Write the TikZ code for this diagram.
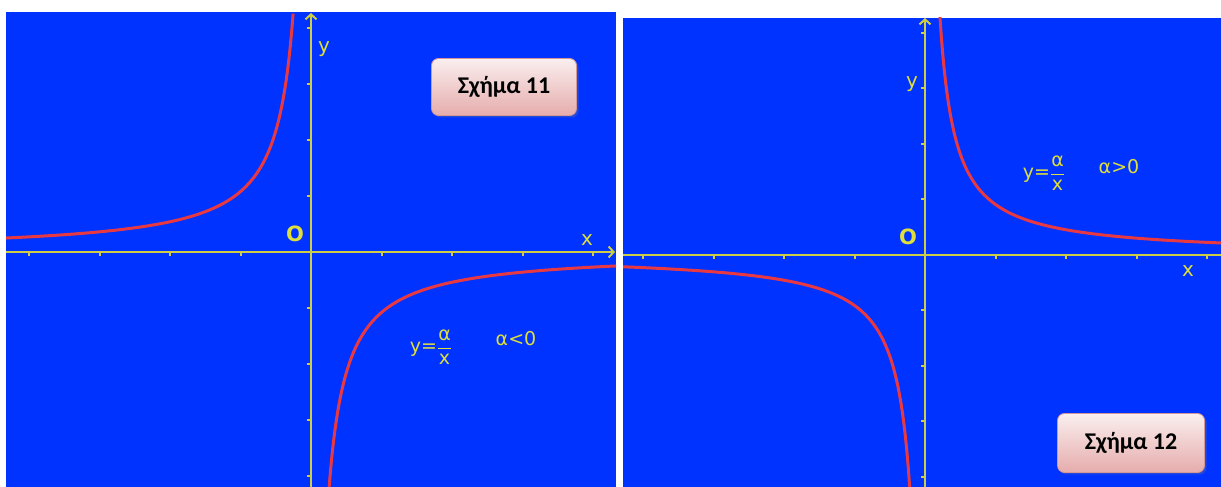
\documentclass[tikz,border=0pt]{standalone}
\usepackage{fontspec}
\setmainfont{DejaVu Sans}
\newfontfamily\boxfont{Carlito}
\usetikzlibrary{arrows.meta,shadows}
\definecolor{panelblue}{RGB}{0,51,255}
\definecolor{axisyellow}{RGB}{205,205,70}
\definecolor{labelyellow}{RGB}{222,222,60}
\definecolor{curvered}{RGB}{232,56,66}
\definecolor{boxpink}{RGB}{230,172,172}
\definecolor{boxedge}{RGB}{212,150,150}
\newcommand{\afrac}{$\displaystyle\frac{\hbox{α}}{\hbox{x}}$}

\begin{document}
\begin{tikzpicture}[x=1pt, y=1pt,
  panel/.style={fill=panelblue},
  axis/.style={axisyellow, line width=2pt, -{Straight Barb[length=5pt,width=11pt]}},
  tick/.style={axisyellow, line width=2pt},
  curve/.style={curvered, line width=3pt},
  lbl/.style={text=labelyellow, inner sep=0pt, font=\fontsize{19}{22}\selectfont},
  tag/.style={draw=boxedge, line width=0.8pt, rounded corners=7pt, top color=boxpink!20, bottom color=boxpink,
    drop shadow={opacity=0.3, shadow xshift=2pt, shadow yshift=-2pt},
    minimum width=145pt, minimum height=57pt, font=\boxfont\bfseries\fontsize{24}{26}\selectfont}]
  \useasboundingbox (0,0) rectangle (1221,487);

  % Σχήμα 11: a<0
  \fill[panel] (6,0) rectangle (616,475);
  \begin{scope}
    \clip (6,0) rectangle (616,475);
    \begin{scope}[shift={(311,235)}, x=70.5pt, y=56pt]
      \draw[curve] plot[domain=-4.35:-0.252, samples=200] (\x,{-1.08/\x});
      \draw[curve] plot[domain=0.256:4.35, samples=200] (\x,{-1.08/\x});
    \end{scope}
  \end{scope}
  \coordinate (xL0) at (6,235);
  \coordinate (xL1) at (615,235);
  \coordinate (yL0) at (311,0);
  \coordinate (yL1) at (311,474);
  \draw[axis] (xL0) -- (xL1);
  \draw[axis] (yL0) -- (yL1);
  \foreach \k in {1,...,4} {
    \draw[tick] (311+70.5*\k,235) -- ++(0,-4);
    \draw[tick] (311-70.5*\k,235) -- ++(0,-4);
    \draw[tick] (311,235+56*\k) -- ++(-4,0);
    \draw[tick] (311,235-56*\k) -- ++(-4,0);
  }
  \node[lbl, font=\bfseries\fontsize{21}{24}\selectfont] (oL) at (295,253) {O};
  \node[lbl, font=\fontsize{20}{22}\selectfont] (xlabL) at (587,247) {x};
  \node[lbl, font=\fontsize{20}{22}\selectfont] (ylabL) at (324,438) {y};
  \node[lbl] (eqL) at (431,140) {y=\afrac};
  \node[lbl] (signL) at (516,148) {α<0};
  \node[tag] (tagL) at (504,400) {Σχήμα 11};

  % Σχήμα 12: a>0
  \fill[panel] (623,0) rectangle (1221,469);
  \begin{scope}
    \clip (623,0) rectangle (1221,469);
    \begin{scope}[shift={(925,232)}, x=70.5pt, y=55.5pt]
      \draw[curve] plot[domain=0.210:4.35, samples=200] (\x,{0.91/\x});
      \draw[curve] plot[domain=-4.35:-0.216, samples=200] (\x,{0.91/\x});
    \end{scope}
  \end{scope}
  \coordinate (xR0) at (623,232);
  \coordinate (xR1) at (1221,232);
  \coordinate (yR0) at (925,0);
  \coordinate (yR1) at (925,469);
  \draw[tick] (xR0) -- (xR1);
  \draw[axis] (yR0) -- (yR1);
  \foreach \k in {1,...,4} {
    \draw[tick] (925+70.5*\k,232) -- ++(0,-4);
    \draw[tick] (925-70.5*\k,232) -- ++(0,-4);
    \draw[tick] (925,232+55.5*\k) -- ++(-4,0);
    \draw[tick] (925,232-55.5*\k) -- ++(-4,0);
  }
  \node[lbl, font=\bfseries\fontsize{21}{24}\selectfont] (oR) at (908,250) {O};
  \node[lbl, font=\fontsize{20}{22}\selectfont] (xlabR) at (1188,216) {x};
  \node[lbl, font=\fontsize{20}{22}\selectfont] (ylabR) at (912,403) {y};
  \node[lbl] (eqR) at (1044,314) {y=\afrac};
  \node[lbl] (signR) at (1119,320) {α>0};
  \node[tag, minimum width=147pt, minimum height=59pt] (tagR) at (1131,44) {Σχήμα 12};
\end{tikzpicture}
\end{document}
